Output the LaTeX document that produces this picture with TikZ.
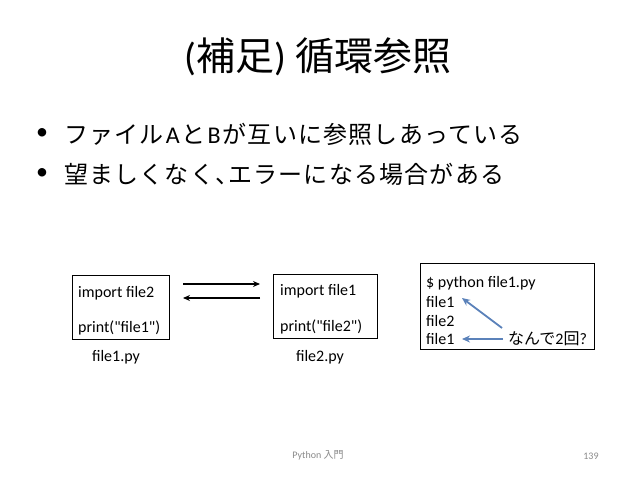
\documentclass[tikz,border=0pt]{standalone}
\usepackage{fontspec}
\setmainfont{Carlito}
\newfontfamily\jp{Noto Sans CJK JP}
\newfontfamily\jpwide{Noto Sans CJK JP}[LetterSpace=5]
\usetikzlibrary{arrows.meta}
\definecolor{arrowblue}{HTML}{5B82BA}
\definecolor{footgray}{HTML}{8A8A8A}
\begin{document}
\begin{tikzpicture}[x=1pt,y=-1pt,
  titletext/.style={font=\fontsize{39}{44}\selectfont, inner sep=0pt},
  bullettext/.style={font=\fontsize{24}{28}\selectfont, anchor=west, inner sep=0pt},
  dot/.style={font=\fontsize{24}{28}\selectfont, inner sep=0pt},
  code/.style={font=\fontsize{16}{19}\selectfont, anchor=west, inner sep=0pt},
  label/.style={font=\fontsize{16}{19}\selectfont, inner sep=0pt},
  filebox/.style={draw, line width=1pt, inner sep=0pt},
  pairarrow/.style={-{Stealth[length=7pt,width=6pt]}, line width=1.6pt},
  bluearrow/.style={-{Stealth[length=8pt,width=7pt]}, line width=1.8pt, draw=arrowblue},
  foot/.style={font=\fontsize{10}{12}\selectfont, text=footgray, inner sep=0pt}]
\useasboundingbox (0,0) rectangle (638,479);
\fill[white] (0,0) rectangle (638,479);

% title
\node[titletext] (title) at (318,57) {({\jp 補足}) {\jp 循環参照}};

% bullets
\node[dot] (d1) at (42,134) {\textbullet};
\node[bullettext] (t1) at (64,134) {{\jpwide ファイル}\kern2pt A\kern2pt{\jpwide と}\kern2pt B\kern2pt{\jpwide が互いに参照しあっている}};
\node[dot] (d2) at (42,174) {\textbullet};
\node[bullettext] (t2) at (64,174) {{\jpwide 望ましくなく、}\kern-11pt{\jpwide エラーになる場合がある}};

% file boxes
\node[filebox, minimum width=97pt, minimum height=64pt] (b1) at (120.5,307) {};
\node[code] (b1a) at (78,293) {import file2};
\node[code] (b1b) at (78,328) {print(\textquotedbl file1\textquotedbl)};
\node[label] (n1) at (116,357) {file1.py};

\node[filebox, minimum width=104pt, minimum height=64pt] (b2) at (325,306) {};
\node[code] (b2a) at (280,291) {import file1};
\node[code] (b2b) at (280,327) {print(\textquotedbl file2\textquotedbl)};
\node[label] (n2) at (320,357) {file2.py};

% arrows between boxes
\coordinate (a1s) at (183,284);
\coordinate (a1e) at (260,284);
\coordinate (a2s) at (260,298);
\coordinate (a2e) at (183,298);
\draw[pairarrow] (a1s) -- (a1e);
\draw[pairarrow] (a2s) -- (a2e);

% output box
\node[filebox, minimum width=174pt, minimum height=86pt] (out) at (507,306) {};
\node[code] (o1) at (426,283) {\$ python file1.py};
\node[code] (o2) at (426,302) {file1};
\node[code] (o3) at (426,321) {file2};
\node[code] (o4) at (426,339) {file1};
\node[code] (why) at (508,339) {{\jp なんで}2{\jp 回}?};

\coordinate (q1s) at (502,328);
\coordinate (q1e) at (462,298);
\coordinate (q2s) at (503,339);
\coordinate (q2e) at (462,339);
\draw[bluearrow] (q1s) -- (q1e);
\draw[bluearrow] (q2s) -- (q2e);

% footer
\node[foot] (ft) at (318,455) {Python {\jp 入門}};
\node[foot] (pg) at (591,456) {139};
\end{tikzpicture}
\end{document}
